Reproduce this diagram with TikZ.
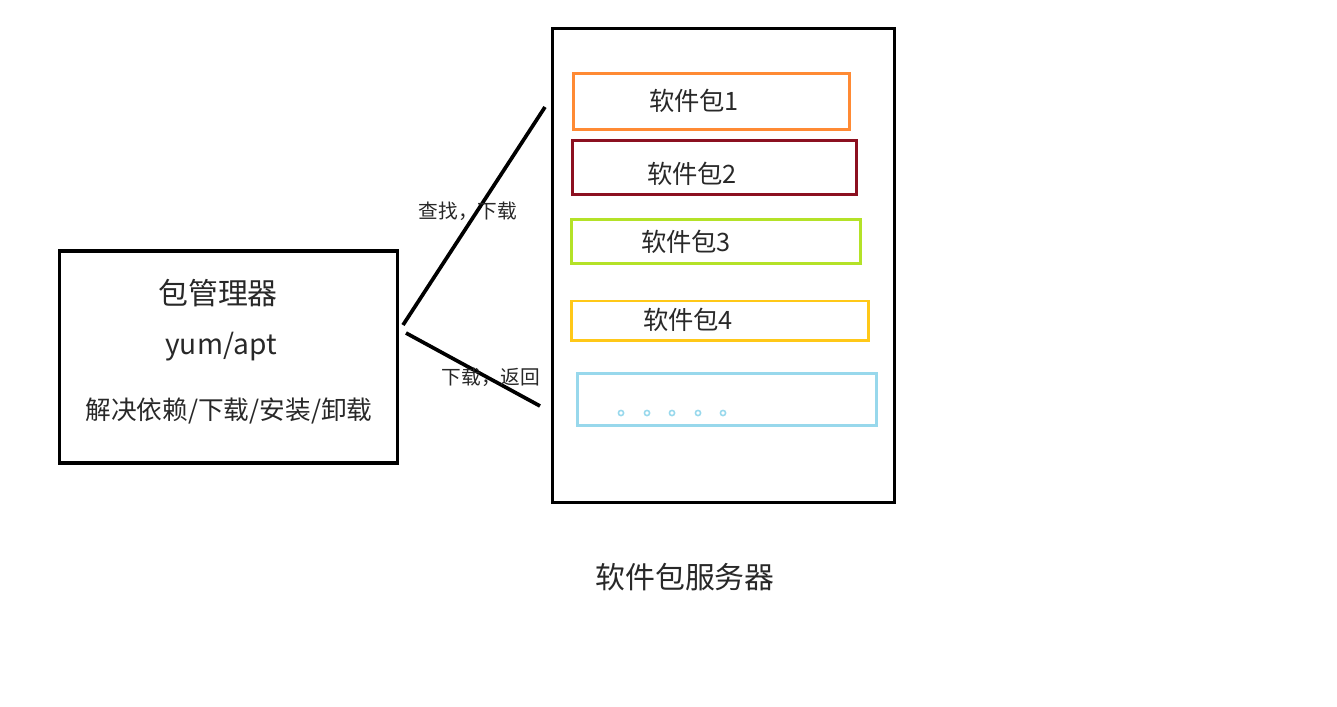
\documentclass[tikz,border=0pt]{standalone}
\usepackage{xcolor}
\usepackage{fontspec}
\setmainfont{Noto Sans CJK SC}
\usetikzlibrary{positioning}

\definecolor{pkgorange}{RGB}{255,138,52}
\definecolor{pkgred}{RGB}{140,16,32}
\definecolor{pkggreen}{RGB}{180,226,40}
\definecolor{pkggold}{RGB}{255,200,24}
\definecolor{pkgblue}{RGB}{152,216,236}
\definecolor{textgray}{RGB}{40,40,40}

\begin{document}
\begin{tikzpicture}[x=0.01cm, y=-0.01cm,
  box/.style={draw, rectangle, line width=0.9pt, inner sep=0pt},
  pkgbox/.style={draw, rectangle, line width=0.85pt, inner sep=0pt},
  pkglabel/.style={font=\fontsize{7.2}{8}\selectfont, text=textgray},
  link/.style={line width=1.05pt}]
  \useasboundingbox (0,0) rectangle (1337,706);

  % package manager
  \node[box, minimum width=3.37cm, minimum height=2.12cm] (manager) at (228.5,357) {};
  \node[font=\fontsize{8.5}{10}\selectfont, text=textgray] (mgrtitle) at (218,293) {包管理器};
  \node[font=\fontsize{8}{10}\selectfont, text=textgray] (mgrtool) at (221,347) {yum/apt};
  \node[font=\fontsize{7.3}{9}\selectfont, text=textgray] (mgrjob) at (229,411) {解决依赖/下载/安装/卸载};

  % package server
  \node[box, minimum width=3.41cm, minimum height=4.73cm] (server) at (723.5,265.5) {};
  \node[pkgbox, draw=pkgorange, minimum width=2.75cm, minimum height=0.55cm] (pkgone) at (711.5,101.5) {};
  \node[pkgbox, draw=pkgred, minimum width=2.83cm, minimum height=0.53cm] (pkgtwo) at (714.5,167.5) {};
  \node[pkgbox, draw=pkggreen, minimum width=2.88cm, minimum height=0.43cm] (pkgthree) at (716,241.5) {};
  \node[pkgbox, draw=pkggold, minimum width=2.96cm, minimum height=0.39cm] (pkgfour) at (720,320.5) {};
  \node[pkgbox, draw=pkgblue, minimum width=2.98cm, minimum height=0.51cm] (pkgmore) at (727,399.5) {};
  \node[pkglabel] (lblone) at (694,101) {软件包1};
  \node[pkglabel] (lbltwo) at (692,174) {软件包2};
  \node[pkglabel] (lblthree) at (686,242) {软件包3};
  \node[pkglabel] (lblfour) at (688,320) {软件包4};
  \foreach \x in {621,647,672,698,723}
    \draw[pkgblue, line width=0.45pt] (\x,413) circle (2.6);
  \node[font=\fontsize{8.5}{10}\selectfont, text=textgray] (srvname) at (685,577) {软件包服务器};

  % connectors
  \coordinate (mgrout) at (403,325);
  \coordinate (mgrin) at (406,333);
  \coordinate (srvin) at (545,107);
  \coordinate (srvout) at (540,406);
  \draw[link] (mgrout) -- (srvin);
  \draw[link] (mgrin) -- (srvout);
  \node[font=\fontsize{5.6}{6}\selectfont, text=textgray] (qlabel) at (468,211) {查找，下载};
  \node[font=\fontsize{5.6}{6}\selectfont, text=textgray] (rlabel) at (491,377) {下载，返回};
\end{tikzpicture}
\end{document}
